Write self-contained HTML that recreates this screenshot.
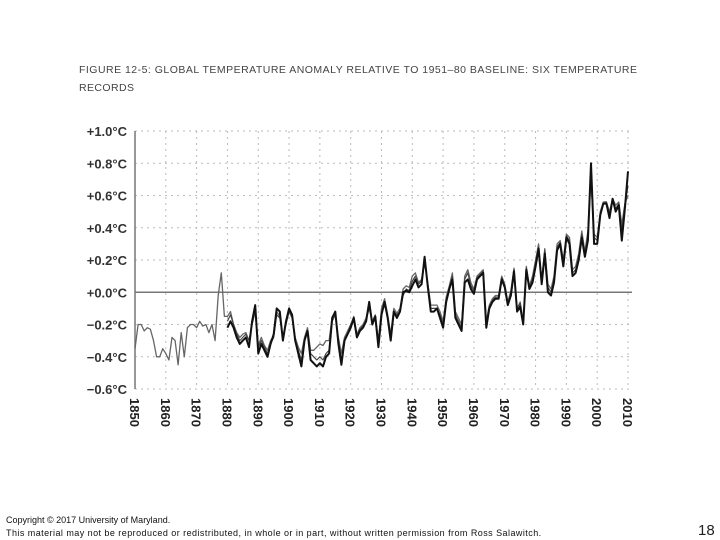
<!DOCTYPE html>
<html><head><meta charset="utf-8"><style>
body{margin:0;background:#fff;width:720px;height:540px;overflow:hidden;font-family:"Liberation Sans",sans-serif;}
.f{position:absolute;font-size:9px;color:#111;white-space:nowrap;}
</style></head><body>
<svg id="c" width="720" height="540" style="position:absolute;left:0;top:0"></svg>
<div class="f" style="left:6px;top:515px;">Copyright © 2017 University of Maryland.</div>
<div class="f" style="left:6px;top:528px;letter-spacing:0.45px;">This material may not be reproduced or redistributed, in whole or in part, without written permission from Ross Salawitch.</div>
<div style="position:absolute;left:698px;top:522px;font-size:15px;color:#222;">18</div>
<script>
const yTicks=[1.0,0.8,0.6,0.4,0.2,0.0,-0.2,-0.4,-0.6];
const yTickLabels=["+1.0°C","+0.8°C","+0.6°C","+0.4°C","+0.2°C","+0.0°C","−0.2°C","−0.4°C","−0.6°C"];
const xTicks=[1850,1860,1870,1880,1890,1900,1910,1920,1930,1940,1950,1960,1970,1980,1990,2000,2010];
const startA=1850;
const seriesA=[-0.35,-0.2,-0.2,-0.24,-0.22,-0.23,-0.3,-0.4,-0.4,-0.35,
-0.38,-0.42,-0.28,-0.3,-0.45,-0.25,-0.4,-0.22,-0.2,-0.2,
-0.22,-0.18,-0.21,-0.2,-0.25,-0.2,-0.3,-0.02,0.12,-0.15,
-0.15,-0.12,-0.2,-0.25,-0.28,-0.26,-0.25,-0.3,-0.2,-0.1,
-0.33,-0.28,-0.33,-0.36,-0.3,-0.27,-0.12,-0.15,-0.28,-0.18,
-0.1,-0.15,-0.28,-0.34,-0.38,-0.28,-0.22,-0.36,-0.36,-0.34,
-0.32,-0.33,-0.3,-0.3,-0.15,-0.13,-0.28,-0.38,-0.28,-0.24,
-0.2,-0.15,-0.26,-0.22,-0.2,-0.16,-0.08,-0.18,-0.14,-0.3,
-0.1,-0.04,-0.14,-0.26,-0.1,-0.13,-0.1,0.02,0.04,0.03,
0.1,0.12,0.06,0.08,0.2,0.06,-0.08,-0.08,-0.08,-0.12,
-0.18,-0.03,0.04,0.12,-0.12,-0.16,-0.2,0.1,0.14,0.06,
0.02,0.1,0.12,0.14,-0.18,-0.08,-0.04,-0.02,-0.02,0.1,
0.05,-0.06,0.01,0.15,-0.1,-0.06,-0.18,0.16,0.04,0.1,
0.2,0.3,0.08,0.27,0.05,0.02,0.1,0.3,0.32,0.2,
0.36,0.34,0.14,0.16,0.24,0.38,0.25,0.38,0.74,0.36,
0.34,0.5,0.56,0.56,0.5,0.58,0.54,0.56,0.42,0.55,0.6];
const startB=1880;
const seriesB=[-0.22,-0.18,-0.22,-0.28,-0.32,-0.3,-0.28,-0.34,-0.18,-0.08,
-0.38,-0.32,-0.36,-0.4,-0.32,-0.26,-0.1,-0.12,-0.3,-0.18,
-0.1,-0.14,-0.3,-0.38,-0.46,-0.3,-0.24,-0.42,-0.44,-0.46,
-0.44,-0.46,-0.4,-0.38,-0.16,-0.12,-0.32,-0.45,-0.3,-0.26,
-0.22,-0.16,-0.28,-0.24,-0.22,-0.18,-0.06,-0.2,-0.15,-0.34,
-0.14,-0.06,-0.16,-0.3,-0.12,-0.16,-0.12,0.0,0.01,0.0,
0.04,0.08,0.03,0.05,0.22,0.04,-0.12,-0.12,-0.1,-0.16,
-0.22,-0.06,0.02,0.08,-0.16,-0.2,-0.24,0.06,0.08,0.02,
-0.01,0.08,0.1,0.12,-0.22,-0.1,-0.06,-0.04,-0.04,0.08,
0.03,-0.08,-0.02,0.13,-0.12,-0.09,-0.2,0.14,0.02,0.06,
0.16,0.27,0.05,0.24,0.0,-0.02,0.06,0.26,0.3,0.16,
0.34,0.3,0.1,0.12,0.2,0.34,0.22,0.32,0.8,0.3,
0.3,0.48,0.55,0.55,0.46,0.58,0.5,0.54,0.32,0.52,0.75];
const seriesC=[-0.18,-0.14,-0.2,-0.26,-0.3,-0.28,-0.26,-0.3,-0.2,-0.12,
-0.34,-0.3,-0.34,-0.38,-0.32,-0.28,-0.14,-0.16,-0.28,-0.2,
-0.12,-0.16,-0.3,-0.36,-0.42,-0.3,-0.24,-0.38,-0.4,-0.42,
-0.4,-0.42,-0.38,-0.36,-0.18,-0.14,-0.3,-0.42,-0.3,-0.26,
-0.2,-0.18,-0.27,-0.23,-0.21,-0.17,-0.1,-0.18,-0.16,-0.3,
-0.12,-0.08,-0.15,-0.27,-0.12,-0.14,-0.12,-0.02,0.02,0.01,
0.07,0.1,0.05,0.07,0.18,0.06,-0.1,-0.1,-0.1,-0.14,
-0.2,-0.05,0.03,0.1,-0.14,-0.18,-0.22,0.08,0.12,0.04,
0.01,0.09,0.11,0.13,-0.2,-0.09,-0.05,-0.03,-0.03,0.09,
0.04,-0.07,0.0,0.14,-0.11,-0.07,-0.19,0.15,0.03,0.08,
0.18,0.28,0.07,0.26,0.03,0.0,0.08,0.28,0.31,0.18,
0.35,0.32,0.12,0.14,0.22,0.36,0.24,0.36,0.7,0.34,
0.32,0.49,0.55,0.56,0.48,0.57,0.52,0.55,0.38,0.54,0.66];
const svg=document.getElementById('c');const NS='http://www.w3.org/2000/svg';
const X0=135,X1=628,Y0=131,Y1=389;
function xs(y){return X0+(y-1850)/160*(X1-X0);}
function ys(v){return Y0+(1.0-v)/1.6*(Y1-Y0);}
function mk(t,a){const e=document.createElementNS(NS,t);for(const k in a)e.setAttribute(k,a[k]);svg.appendChild(e);return e;}
const t1=mk('text',{x:79,y:73,'font-size':'10.5','font-family':'Liberation Sans, sans-serif',fill:'#444',textLength:558,lengthAdjust:'spacing'});
t1.textContent='FIGURE 12-5: GLOBAL TEMPERATURE ANOMALY RELATIVE TO 1951–80 BASELINE: SIX TEMPERATURE';


const t2=mk('text',{x:79,y:91,'font-size':'10.5','font-family':'Liberation Sans, sans-serif',fill:'#444',textLength:55,lengthAdjust:'spacing'});
t2.textContent='RECORDS';


yTicks.forEach((v,i)=>{
 const g=mk('line',{x1:X0,x2:632,y1:ys(v),y2:ys(v),stroke:v===0?'#777':'#bbb','stroke-width':v===0?1.5:1,'stroke-dasharray':v===0?'':'2,4'});
 
 
 const t=mk('text',{x:127,y:ys(v)+5,'text-anchor':'end','font-size':'13','font-weight':'bold','font-family':'Liberation Sans, sans-serif',fill:'#333'});
 t.textContent=yTickLabels[i];
 
 
});
xTicks.forEach(yr=>{
 const g=mk('line',{x1:xs(yr),x2:xs(yr),y1:Y0,y2:Y1,stroke:'#bbb','stroke-dasharray':'2,4'});
 
 
 const t=mk('text',{x:0,y:0,'font-size':'13','font-weight':'bold','font-family':'Liberation Sans, sans-serif',fill:'#222',transform:`translate(${xs(yr)-5},398) rotate(90)`});
 t.textContent=yr;
 
 
});
const ax=mk('line',{x1:X0,x2:X0,y1:Y0,y2:Y1,stroke:'#777','stroke-width':1.5});


function line(arr,start,col,w,name){
 const p=arr.map((v,i)=>xs(start+i).toFixed(1)+','+ys(v).toFixed(1)).join(' ');
 const e=mk('polyline',{points:p,fill:'none',stroke:col,'stroke-width':w,'stroke-linejoin':'round'});
 
 
}
line(seriesA,startA,'#666',1.3,'series-record-a');
line(seriesC,startB,'#444',1.2,'series-record-c');
line(seriesB,startB,'#111',2,'series-record-b');
</script>
</body></html>
